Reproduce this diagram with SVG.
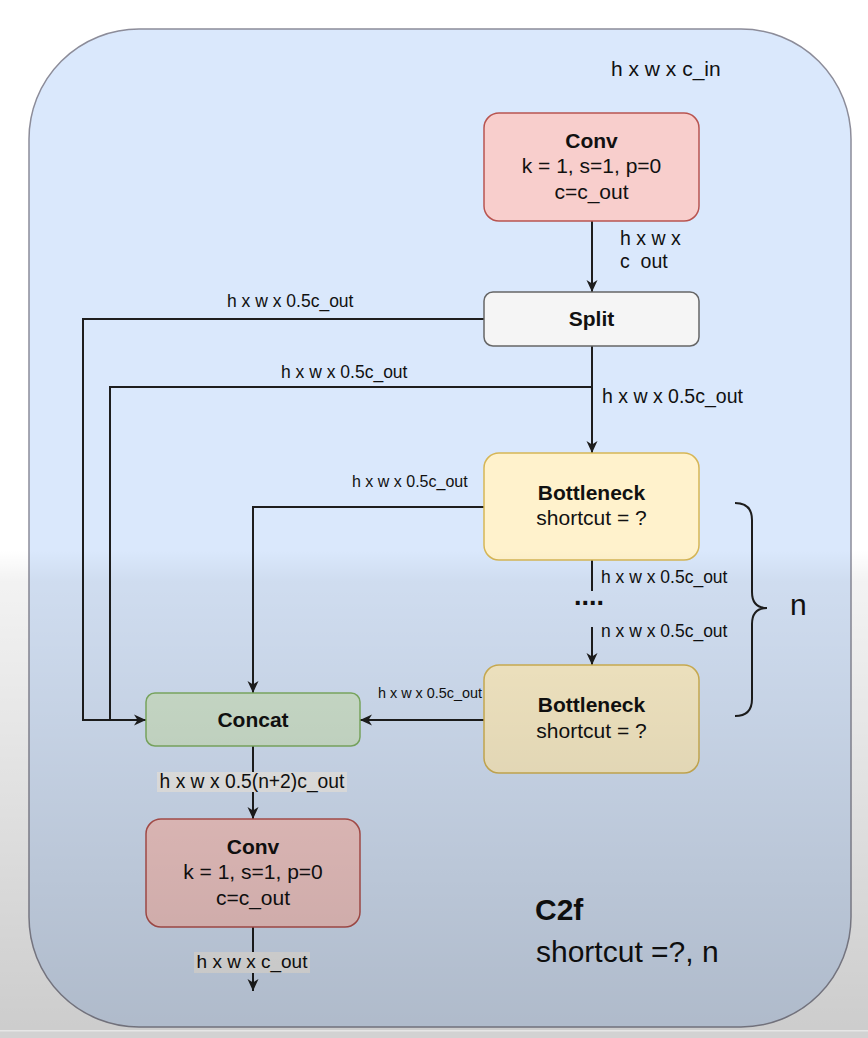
<svg xmlns="http://www.w3.org/2000/svg" width="868" height="1038" viewBox="0 0 868 1038">
<defs>
<style>
text{font-family:"Liberation Sans",Arial,sans-serif;fill:#111;}
.nt{font-size:21px;text-anchor:middle;}
.b{font-weight:bold;}
.lbl{font-size:17.5px;}
.edge{fill:none;stroke:#1e1e1e;stroke-width:2;}
.conv{fill:#f8cecc;stroke:#b85450;stroke-width:1.5;}
.split{fill:#f5f5f5;stroke:#666666;stroke-width:1.5;}
.bneck{fill:#fff2cc;stroke:#d6b656;stroke-width:1.5;}
.concat{fill:#d5e8d4;stroke:#82b366;stroke-width:1.5;}
.lblbg{fill:#f4f4f4;}
</style>
<marker id="arr" viewBox="0 0 12 12" markerWidth="12" markerHeight="12" refX="12" refY="6" orient="auto" markerUnits="userSpaceOnUse">
<path d="M0,0.5 L12,6 L0,11.5 L3.5,6 z" fill="#1e1e1e"/>
</marker>
<linearGradient id="shade" x1="0" y1="0" x2="0" y2="1038" gradientUnits="userSpaceOnUse">
<stop offset="0" stop-color="#000" stop-opacity="0"/>
<stop offset="0.53" stop-color="#000" stop-opacity="0"/>
<stop offset="0.56" stop-color="#000" stop-opacity="0.05"/>
<stop offset="1" stop-color="#000" stop-opacity="0.2"/>
</linearGradient>
</defs>

<rect x="0" y="0" width="868" height="1038" fill="#ffffff"/>
<rect id="container" x="29" y="29" width="822" height="998" rx="110" ry="110" fill="#dae8fc" stroke="#8c8c99" stroke-width="1.5"/>

<g id="connectors">
<line class="edge" x1="592" y1="221" x2="592" y2="292" marker-end="url(#arr)"/>
<polyline class="edge" points="484,319 83,319 83,720 146,720" marker-end="url(#arr)"/>
<polyline class="edge" points="592,387 110,387 110,720"/>
<line class="edge" x1="592" y1="346" x2="592" y2="453" marker-end="url(#arr)"/>
<polyline class="edge" points="484,507 253,507 253,693" marker-end="url(#arr)"/>
<line class="edge" x1="592" y1="560" x2="592" y2="591"/>
<line class="edge" x1="592" y1="627" x2="592" y2="665" marker-end="url(#arr)"/>
<line class="edge" x1="484" y1="720" x2="360" y2="720" marker-end="url(#arr)"/>
<line class="edge" x1="253" y1="746" x2="253" y2="819" marker-end="url(#arr)"/>
<line class="edge" x1="253" y1="927" x2="253" y2="991" marker-end="url(#arr)"/>
<path class="edge" d="M735,503 Q752,503 752,520 L752,592 Q752,608 767,608 Q752,608 752,624 L752,699 Q752,716 735,716"/>
</g>

<g id="edge-labels">
<text x="611" y="76" style="font-size:21px">h x w x c_in</text>
<text x="620" y="245" style="font-size:19.5px">h x w x</text>
<text x="620" y="268" style="font-size:19.5px;white-space:pre">c  out</text>
<text x="227" y="307" class="lbl">h x w x 0.5c_out</text>
<text x="281" y="378" class="lbl">h x w x 0.5c_out</text>
<text x="602" y="403" style="font-size:19.5px">h x w x 0.5c_out</text>
<text x="352" y="487" style="font-size:16px">h x w x 0.5c_out</text>
<text x="601" y="583" class="lbl">h x w x 0.5c_out</text>
<text x="574" y="605" style="font-size:27px;font-weight:bold">....</text>
<text x="601" y="637" class="lbl">n x w x 0.5c_out</text>
<text x="378" y="698" style="font-size:14.4px">h x w x 0.5c_out</text>
<text x="790" y="615" style="font-size:30px">n</text>
<rect class="lblbg" x="157" y="772" width="190" height="20"/>
<text x="252" y="788" style="font-size:19.3px;text-anchor:middle">h x w x 0.5(n+2)c_out</text>
<rect class="lblbg" x="194" y="952" width="116" height="21"/>
<text x="252" y="968" style="font-size:19px;text-anchor:middle">h x w x c_out</text>
</g>

<g id="conv-top">
<rect class="conv" x="484" y="113" width="215" height="108" rx="15"/>
<text class="nt b" x="591.5" y="148">Conv</text>
<text class="nt" x="591.5" y="173">k = 1, s=1, p=0</text>
<text class="nt" x="591.5" y="199">c=c_out</text>
</g>

<g id="split">
<rect class="split" x="484" y="292" width="215" height="54" rx="9"/>
<text class="nt b" x="591.5" y="326">Split</text>
</g>

<g id="bottleneck-1">
<rect class="bneck" x="484" y="453" width="215" height="107" rx="15"/>
<text class="nt b" x="591.5" y="500">Bottleneck</text>
<text class="nt" x="591.5" y="525">shortcut = ?</text>
</g>

<g id="bottleneck-2">
<rect class="bneck" x="484" y="665" width="215" height="108" rx="15"/>
<text class="nt b" x="591.5" y="712">Bottleneck</text>
<text class="nt" x="591.5" y="738">shortcut = ?</text>
</g>

<g id="concat">
<rect class="concat" x="146" y="693" width="214" height="53" rx="9"/>
<text class="nt b" x="253" y="727">Concat</text>
</g>

<g id="conv-bottom">
<rect class="conv" x="146" y="819" width="214" height="108" rx="15"/>
<text class="nt b" x="253" y="854">Conv</text>
<text class="nt" x="253" y="879">k = 1, s=1, p=0</text>
<text class="nt" x="253" y="905">c=c_out</text>
</g>

<g id="title">
<text x="535" y="920" style="font-size:30px;font-weight:bold">C2f</text>
<text x="536" y="962" style="font-size:30px">shortcut =?, n</text>
</g>

<rect x="0" y="0" width="868" height="1038" fill="url(#shade)" pointer-events="none"/>
<rect x="0" y="1030" width="868" height="8" fill="#d2d2d2"/>
<rect x="0" y="1030" width="868" height="1.5" fill="#e6e6e6"/>
</svg>
